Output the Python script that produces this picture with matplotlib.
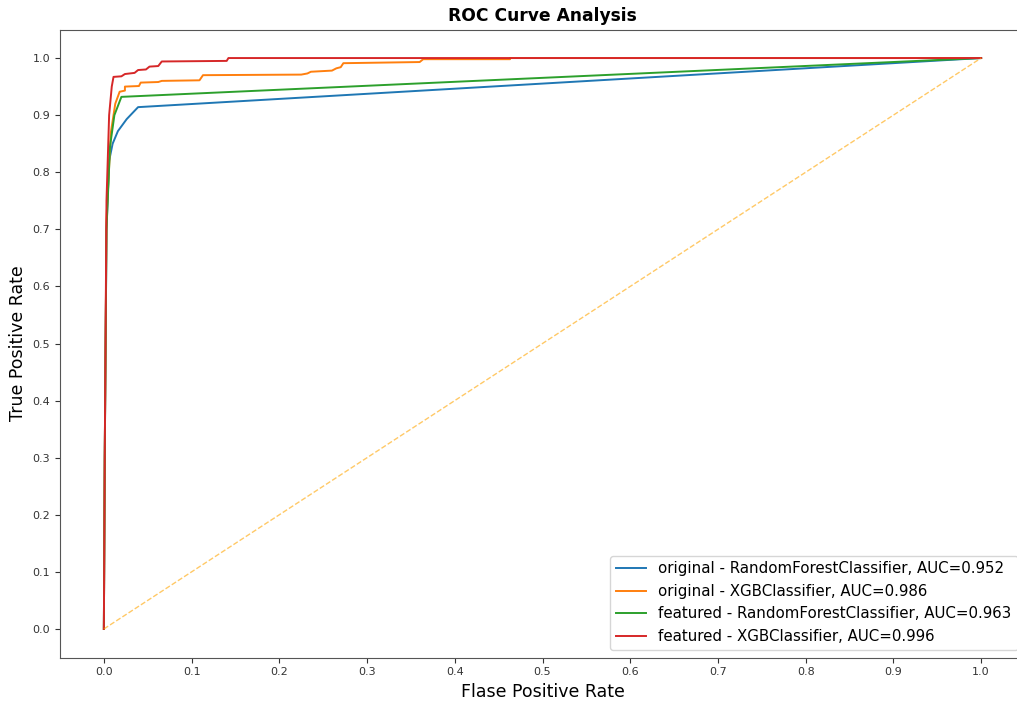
import matplotlib
matplotlib.use("Agg")
import matplotlib.pyplot as plt
import numpy as np

labels = [
    "original - RandomForestClassifier, AUC=0.952",
    "original - XGBClassifier, AUC=0.986",
    "featured - RandomForestClassifier, AUC=0.963",
    "featured - XGBClassifier, AUC=0.996",
]

fpr_rf_orig = [0, 0.001, 0.003, 0.006, 0.010, 0.016, 0.026, 0.039, 1.0]
tpr_rf_orig = [0, 0.30, 0.70, 0.82, 0.850, 0.872, 0.893, 0.914, 1.0]

fpr_xgb_orig = [0, 0.001, 0.003, 0.008, 0.013, 0.018, 0.024, 0.024, 0.040, 0.042, 0.062, 0.066,
                0.109, 0.113, 0.225, 0.232, 0.236, 0.260, 0.265, 0.270, 0.273, 0.360, 0.364,
                0.463, 0.463, 1.0]
tpr_xgb_orig = [0, 0.30, 0.72, 0.87, 0.920, 0.941, 0.943, 0.950, 0.951, 0.957, 0.958, 0.960,
                0.961, 0.970, 0.971, 0.973, 0.976, 0.978, 0.982, 0.984, 0.991, 0.993, 0.998,
                0.998, 1.0, 1.0]

fpr_rf_feat = [0, 0.001, 0.003, 0.007, 0.012, 0.020, 1.0]
tpr_rf_feat = [0, 0.30, 0.70, 0.845, 0.900, 0.932, 1.0]

fpr_xgb_feat = [0, 0.001, 0.003, 0.006, 0.009, 0.011, 0.020, 0.024, 0.035, 0.039, 0.048, 0.052,
                0.062, 0.066, 0.140, 0.142, 1.0]
tpr_xgb_feat = [0, 0.30, 0.75, 0.90, 0.950, 0.967, 0.968, 0.972, 0.974, 0.979, 0.980, 0.985,
                0.986, 0.994, 0.995, 1.0, 1.0]

ticks = np.round(np.arange(0, 1.01, 0.1), 1)

fig = plt.figure(figsize=(10.17, 7.02), dpi=100)
ax = fig.add_axes([60 / 1017, 1 - 657.5 / 702, 965 / 1017, 628 / 702])

curves = [(fpr_rf_orig, tpr_rf_orig), (fpr_xgb_orig, tpr_xgb_orig),
          (fpr_rf_feat, tpr_rf_feat), (fpr_xgb_feat, tpr_xgb_feat)]
for (f, t), lab in zip(curves, labels):
    ax.plot(f, t, label=lab, lw=1.4)

ax.plot([0, 1], [0, 1], color="orange", linestyle="--", lw=1, alpha=0.6)

ax.set_xticks(ticks)
ax.set_yticks(ticks)
ax.set_xticklabels([f"{v:.1f}" for v in ticks])
ax.set_yticklabels([f"{v:.1f}" for v in ticks])
ax.tick_params(labelsize=8, colors="#333333")
for s in ax.spines.values():
    s.set_color("#555555")
ax.set_xlim(-0.05, 1.05)
ax.set_ylim(-0.05, 1.05)
ax.set_xlabel("Flase Positive Rate", fontsize=12.5)
ax.set_ylabel("True Positive Rate", fontsize=12.5)
ax.set_title("ROC Curve Analysis", fontweight="bold", fontsize=12.3, pad=6)
ax.legend(loc="lower right", fontsize=10.8)

fig.savefig("out.png", dpi=100)
